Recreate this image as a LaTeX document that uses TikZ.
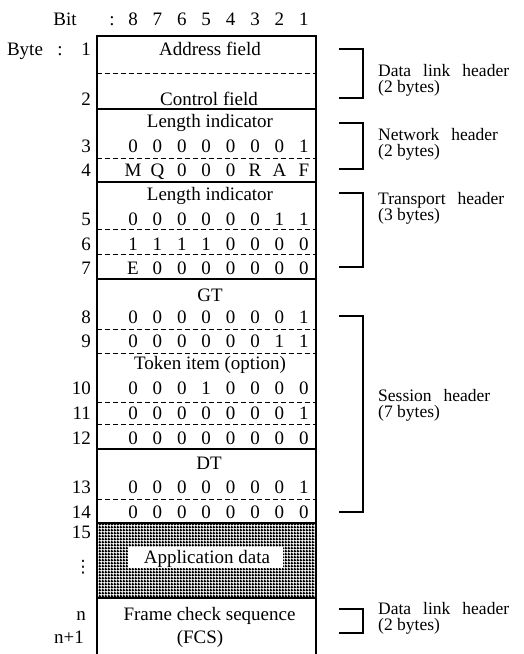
\documentclass[tikz,border=0pt]{standalone}
\usepackage{fontspec}
\setmainfont{Liberation Serif}
\newfontfamily\dejavu{DejaVu Sans}
\usetikzlibrary{patterns.meta}
\pgfdeclarepattern{
  name=densegrid,
  type=uncolored,
  bottom left={\pgfpoint{0pt}{0pt}},
  top right={\pgfpoint{3pt}{3pt}},
  tile size={\pgfpoint{3pt}{3pt}},
  code={
    \pgfpathrectangle{\pgfpointorigin}{\pgfpoint{3pt}{1.75pt}}
    \pgfusepath{fill}
    \pgfpathrectangle{\pgfpointorigin}{\pgfpoint{1.75pt}{3pt}}
    \pgfusepath{fill}
  }
}
\newcommand\lblfont{\fontsize{17.5}{20}\selectfont\spaceskip 12pt plus 1pt minus 1pt\relax}
\newcommand\lblfonttwo{\fontsize{17.5}{20}\selectfont}
\newcommand\hsepline[2][sepline]{\draw[#1] (97,#2) -- (316,#2);}
\newcommand\bitrow[3]{%
  \foreach \v [count=\i] in {#3} {\node[txt] (#1-\i) at ({133+24.4*(\i-1)},#2) {\v};}}
\newcommand\bytenum[3]{\node[num] (#1) at (91,#2) {#3};}
\newcommand\hdrbracket[3]{%
  \coordinate (#1a) at (339,#2);
  \coordinate (#1b) at (339,#3);
  \draw[brk] (#1a) -- ++(24,0) |- (#1b);}
\begin{document}
\begin{tikzpicture}[x=1pt,y=-1pt,
  txt/.style={font=\fontsize{19}{22}\selectfont, inner sep=0pt, anchor=base},
  num/.style={txt, anchor=base east},
  lbl/.style={font=\lblfont, inner sep=0pt, anchor=base west},
  lbltwo/.style={font=\lblfonttwo, inner sep=0pt, anchor=base west},
  sepline/.style={line width=1.3pt},
  dsep/.style={line width=0.9pt, dash pattern=on 5pt off 3pt},
  brk/.style={line width=1.1pt},
  frame/.style={line width=1.4pt}]
\useasboundingbox (0,0) rectangle (523,654);

% shaded application data area
\fill[pattern=densegrid, pattern color=black] (97,523) rectangle (316,598);
\fill[white] (128,547) rectangle (283,568);

% frame
\coordinate (BL) at (97,654);
\coordinate (TL) at (97,36);
\coordinate (TR) at (316,36);
\coordinate (BR) at (316,654);
\draw[frame] (BL) -- (TL) -- (TR) -- (BR);

% separators
\hsepline[dsep]{73}
\hsepline{109}
\hsepline[dsep]{158}
\hsepline{182}
\hsepline[dsep]{229}
\hsepline[dsep]{254}
\hsepline{279}
\hsepline[dsep]{329}
\hsepline[dsep]{353}
\hsepline[dsep]{402}
\hsepline[dsep]{424}
\hsepline{449}
\hsepline[dsep]{499}
\hsepline{523}
\hsepline{598}

% header
\node[txt] (bit) at (65,25) {Bit};
\node[txt] (bitc) at (112,25) {:};
\bitrow{hdr}{25}{8,7,6,5,4,3,2,1}
\node[txt] (byte) at (25,55) {Byte};
\node[txt] (bytec) at (60,55) {:};

% byte numbers
\bytenum{n1}{55}{1}
\bytenum{n2}{105}{2}
\bytenum{n3}{152}{3}
\bytenum{n4}{176}{4}
\bytenum{n5}{225}{5}
\bytenum{n6}{250}{6}
\bytenum{n7}{274}{7}
\bytenum{n8}{323}{8}
\bytenum{n9}{347}{9}
\bytenum{n10}{394}{10}
\bytenum{n11}{419}{11}
\bytenum{n12}{444}{12}
\bytenum{n13}{493}{13}
\bytenum{n14}{518}{14}
\bytenum{n15}{538}{15}
\node[font=\dejavu\fontsize{17}{20}\selectfont, inner sep=0pt] (vd) at (83,567) {⋮};
\node[num] (nn) at (86,620) {n};
\node[num] (nn1) at (84,643) {n+1};

% field texts
\node[txt] (addr) at (210,55) {Address field};
\node[txt] (ctrl) at (209,105) {Control field};
\node[txt] (li1) at (210,127) {Length indicator};
\node[txt] (li2) at (210,200) {Length indicator};
\node[txt] (gt) at (210,301) {GT};
\node[txt] (tok) at (210,369) {Token item (option)};
\node[txt] (dt) at (209,469) {DT};
\node[txt] (app) at (207,563) {Application data};
\node[txt] (fcs1) at (209.5,620) {Frame check sequence};
\node[txt] (fcs2) at (200,643) {(FCS)};

% bit rows
\bitrow{r3}{152}{0,0,0,0,0,0,0,1}
\bitrow{r4}{176}{M,Q,0,0,0,R,A,F}
\bitrow{r5}{225}{0,0,0,0,0,0,1,1}
\bitrow{r6}{250}{1,1,1,1,0,0,0,0}
\bitrow{r7}{274}{E,0,0,0,0,0,0,0}
\bitrow{r8}{323}{0,0,0,0,0,0,0,1}
\bitrow{r9}{347}{0,0,0,0,0,0,1,1}
\bitrow{r10}{394}{0,0,0,1,0,0,0,0}
\bitrow{r11}{419}{0,0,0,0,0,0,0,1}
\bitrow{r12}{444}{0,0,0,0,0,0,0,0}
\bitrow{r13}{493}{0,0,0,0,0,0,0,1}
\bitrow{r14}{518}{0,0,0,0,0,0,0,0}

% brackets
\hdrbracket{k1}{49}{98}
\hdrbracket{k2}{123}{169}
\hdrbracket{k3}{193}{267}
\hdrbracket{k4}{316}{512}
\hdrbracket{k5}{609}{633}

% right labels
\node[lbl] (dl1) at (378,76) {Data link header};
\node[lbltwo] (dl1b) at (378,92.5) {(2 bytes)};
\node[lbl] (nw) at (378,140) {Network header};
\node[lbltwo] (nwb) at (378,156.5) {(2 bytes)};
\node[lbl] (tp) at (378,204) {Transport header};
\node[lbltwo] (tpb) at (378,220.5) {(3 bytes)};
\node[lbl] (ss) at (378,401) {Session header};
\node[lbltwo] (ssb) at (378,417.5) {(7 bytes)};
\node[lbl] (dl2) at (378,614) {Data link header};
\node[lbltwo] (dl2b) at (378,630.5) {(2 bytes)};
\end{tikzpicture}
\end{document}
